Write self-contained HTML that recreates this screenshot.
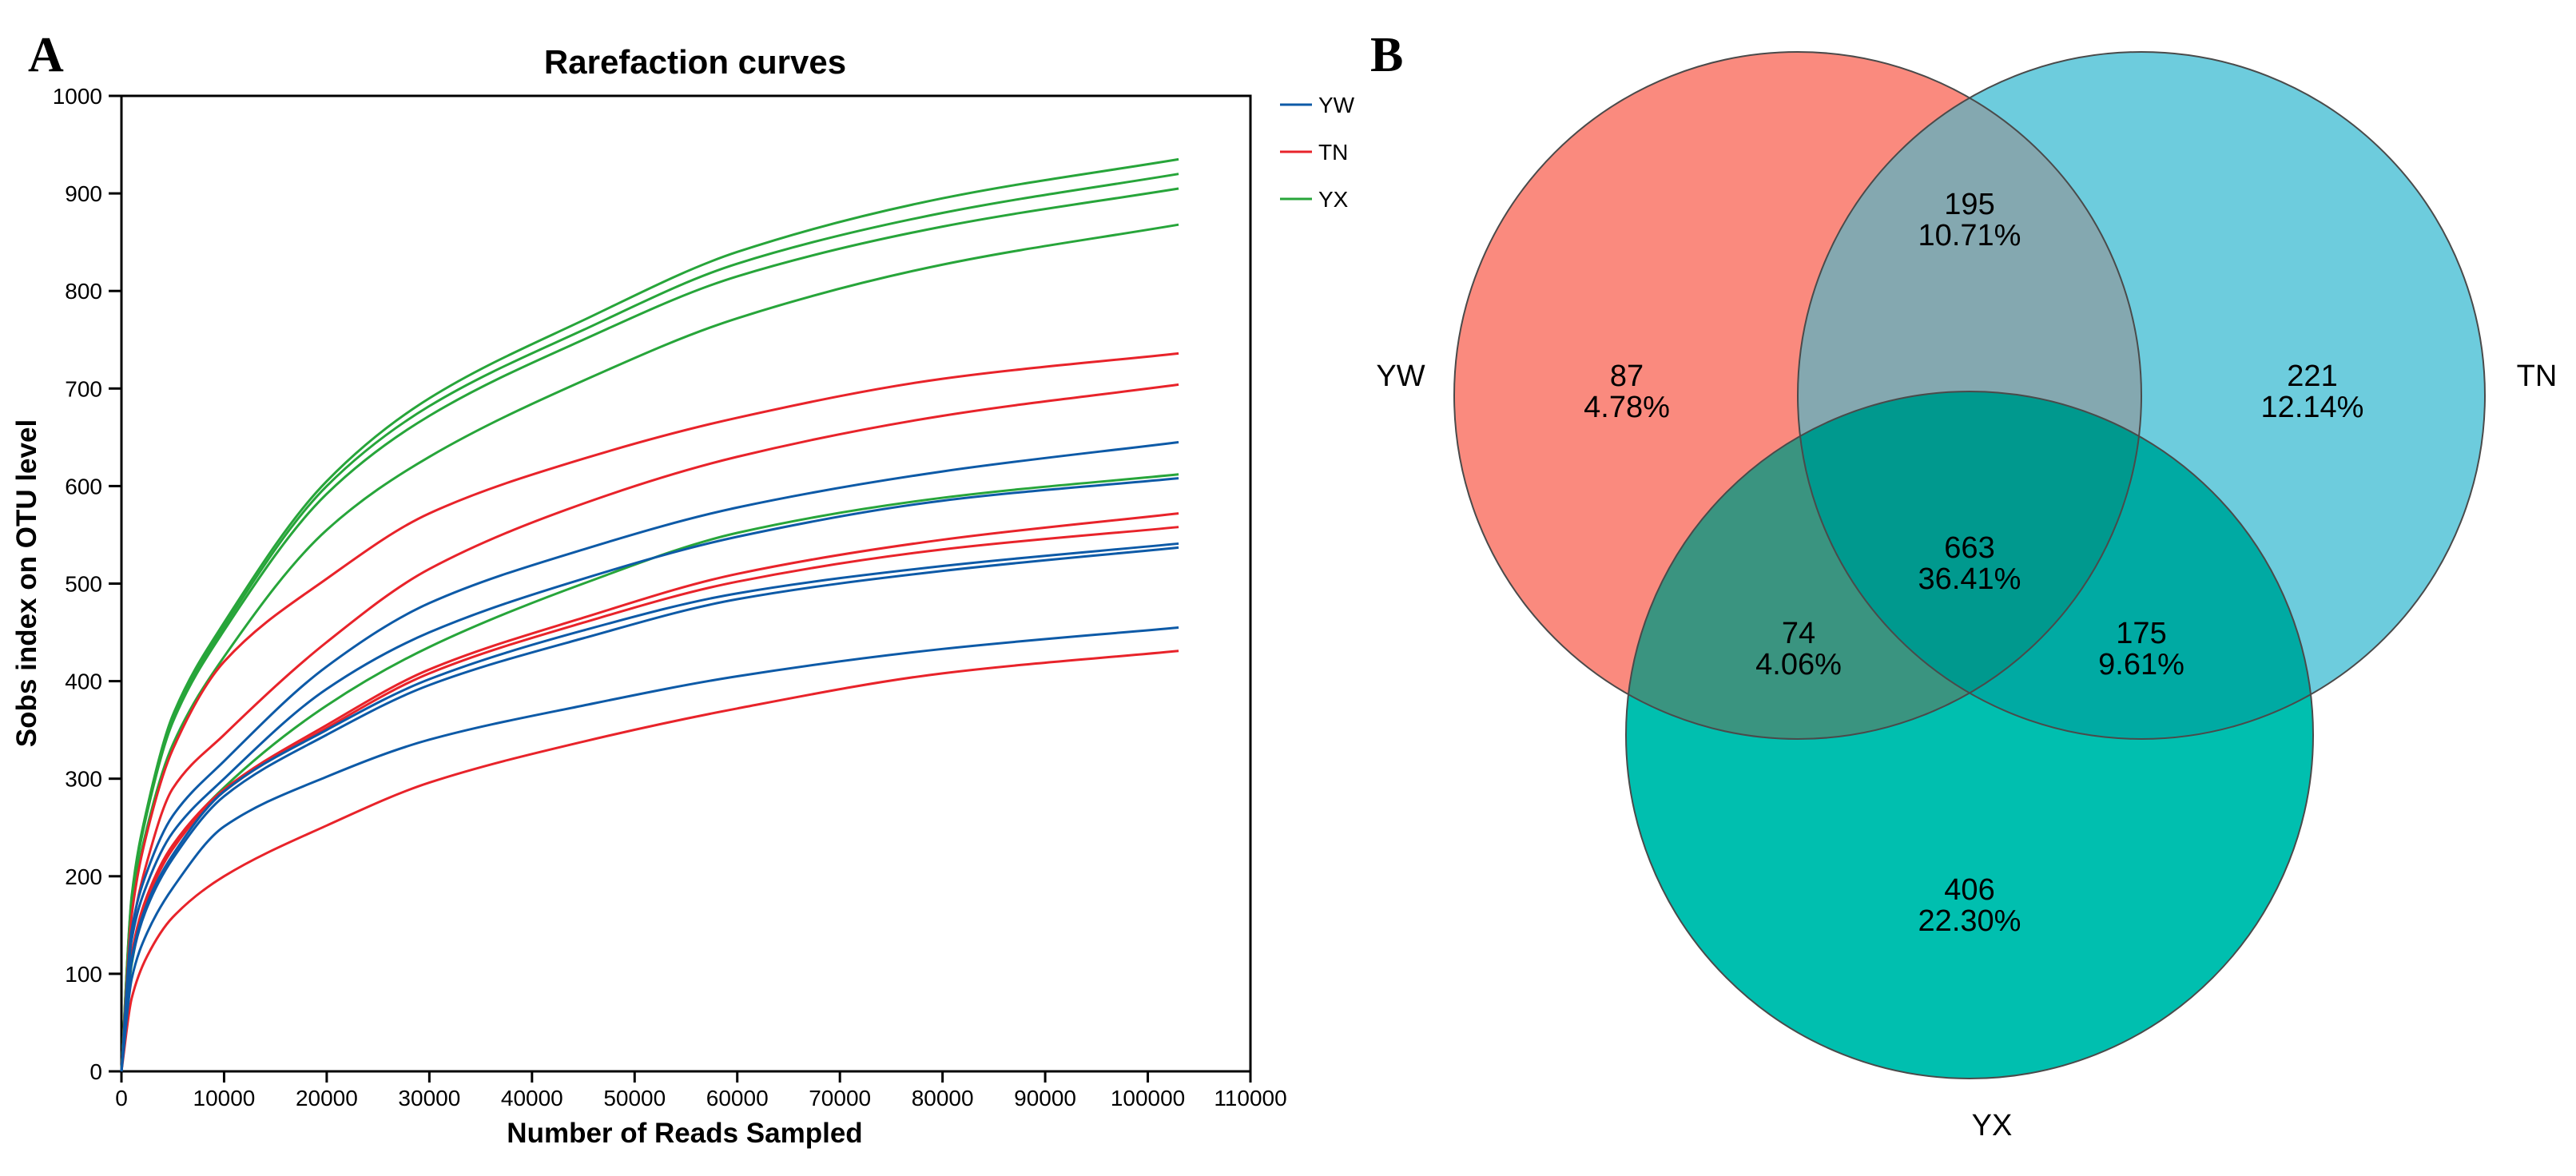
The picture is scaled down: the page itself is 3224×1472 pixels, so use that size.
<!DOCTYPE html>
<html><head><meta charset="utf-8"><style>
html,body{margin:0;padding:0;background:#fff;}
svg{display:block;font-family:"Liberation Sans",sans-serif;}
</style></head><body>
<svg id="fig" width="3224" height="1472" viewBox="0 0 3224 1472" xmlns="http://www.w3.org/2000/svg">
<rect width="3224" height="1472" fill="#fff"/>
<text x="35" y="89" font-family="Liberation Serif,serif" font-weight="bold" font-size="62">A</text>
<text x="1715" y="89" font-family="Liberation Serif,serif" font-weight="bold" font-size="62">B</text>
<text x="870" y="92" text-anchor="middle" font-weight="bold" font-size="42">Rarefaction curves</text>
<g id="chart"></g>
<text x="857" y="1430" text-anchor="middle" font-weight="bold" font-size="35">Number of Reads Sampled</text>
<text x="0" y="0" transform="translate(45,730) rotate(-90)" text-anchor="middle" font-weight="bold" font-size="35">Sobs index on OTU level</text>
<g id="legend"></g>
<g id="venn"></g>
</svg>
<script>
const NS="http://www.w3.org/2000/svg";
const reads=[0,1000,2500,5000,10000,20000,30000,45000,60000,80000,103000];
const xTicks=[0,10000,20000,30000,40000,50000,60000,70000,80000,90000,100000,110000];
const yTicks=[0,100,200,300,400,500,600,700,800,900,1000];
const groupNames=["YW","TN","YX"];
const groupColors=["#0d5aa7","#e8232a","#27a53a"];
const yx1=[0,180,270,365,460,605,690,770,840,895,935];
const yx2=[0,178,268,362,456,600,682,760,828,880,920];
const yx3=[0,175,265,358,452,592,672,750,815,866,905];
const yx4=[0,165,250,335,425,555,630,708,772,827,868];
const yx5=[0,110,175,230,291,375,435,500,552,588,612];
const tn1=[0,160,245,330,420,505,572,628,670,710,736];
const tn2=[0,140,215,290,345,440,515,582,630,672,704];
const tn3=[0,120,180,232,289,355,412,465,510,545,572];
const tn4=[0,118,176,228,287,352,408,460,502,535,558];
const tn5=[0,75,118,158,200,252,296,338,372,408,431];
const yw1=[0,145,205,262,318,415,480,535,578,615,645];
const yw2=[0,135,192,245,300,392,450,505,548,585,608];
const yw3=[0,115,172,222,287,350,402,452,490,518,541];
const yw4=[0,112,168,218,282,345,396,444,484,513,537];
const yw5=[0,95,142,188,251,302,340,375,405,433,455];
const vennSets=["YW","TN","YX"];
const vennCounts=["87","221","406","195","74","175","663"];
const vennPcts=["4.78%","12.14%","22.30%","10.71%","4.06%","9.61%","36.41%"];

const X0=152,X1=1565,Y0=1341,Y1=120;
const xs=v=>X0+(v/110000)*(X1-X0);
const ys=v=>Y0-(v/1000)*(Y0-Y1);
function mk(t,a,p){const e=document.createElementNS(NS,t);for(const k in a)e.setAttribute(k,a[k]);(p||chart).appendChild(e);return e;}
const chart=document.getElementById('chart');
let ax=mk('rect',{x:X0,y:Y1,width:X1-X0,height:Y0-Y1,fill:'none',stroke:'#000','stroke-width':3});


xTicks.forEach(t=>{
 let l=mk('line',{x1:xs(t),x2:xs(t),y1:Y0,y2:Y0+14,stroke:'#000','stroke-width':3});
 
 
 let tx=mk('text',{x:xs(t),y:Y0+43,'text-anchor':'middle','font-size':28});
 
 
 tx.textContent=t;
});
yTicks.forEach(t=>{
 let l=mk('line',{x1:X0-16,x2:X0,y1:ys(t),y2:ys(t),stroke:'#000','stroke-width':3});
 
 
 let tx=mk('text',{x:X0-24,y:ys(t)+10,'text-anchor':'end','font-size':28});
 
 
 tx.textContent=t;
});
function pathFor(vals){
 const p=vals.map((v,i)=>[xs(reads[i]),ys(v)]);
 const n=p.length;const m=[];const d=[];
 for(let i=0;i<n-1;i++)d.push((p[i+1][1]-p[i][1])/(p[i+1][0]-p[i][0]));
 for(let i=0;i<n;i++){
  if(i==0)m.push(d[0]);else if(i==n-1)m.push(d[n-2]);
  else m.push(d[i-1]*d[i]<=0?0:2/(1/d[i-1]+1/d[i]));
 }
 let s=`M${p[0][0]},${p[0][1]}`;
 for(let i=0;i<n-1;i++){
  const h=p[i+1][0]-p[i][0];
  s+=` C${p[i][0]+h/3},${p[i][1]+m[i]*h/3} ${p[i+1][0]-h/3},${p[i+1][1]-m[i+1]*h/3} ${p[i+1][0]},${p[i+1][1]}`;
 }
 return s;
}
const series=[[yx1,2],[yx2,2],[yx3,2],[yx4,2],[yx5,2],[tn1,1],[tn2,1],[tn3,1],[tn4,1],[tn5,1],[yw1,0],[yw2,0],[yw3,0],[yw4,0],[yw5,0]];
series.forEach(([vals,g])=>{
 let c=mk('path',{d:pathFor(vals),fill:'none',stroke:groupColors[g],'stroke-width':3});
 
 
});
const legend=document.getElementById('legend');
groupNames.forEach((nm,i)=>{
 const y=131+i*59;
 let l=mk('line',{x1:1602,x2:1642,y1:y,y2:y,stroke:groupColors[i],'stroke-width':3},legend);
 
 
 let t=mk('text',{x:1650,y:y+10,'font-size':28},legend);
 
 
 t.textContent=nm;
});
const venn=document.getElementById('venn');
const C=[[2250,495],[2680,495],[2465,920]];const R=430;
const defs=mk('defs',{},venn);
C.forEach((c,i)=>{const cp=mk('clipPath',{id:'cp'+i},defs);mk('circle',{cx:c[0],cy:c[1],r:R},cp);});
const cp01=mk('clipPath',{id:'cp01'},defs);mk('circle',{cx:C[1][0],cy:C[1][1],r:R,'clip-path':'url(#cp0)'},cp01);
const baseCols=["#fa8a7e","#6dccdd","#00bfaf"];
C.forEach((c,i)=>{let e=mk('circle',{cx:c[0],cy:c[1],r:R,fill:baseCols[i]},venn);
 
 });
let e1=mk('circle',{cx:C[1][0],cy:C[1][1],r:R,fill:'#84a8b0','clip-path':'url(#cp0)'},venn);


let e2=mk('circle',{cx:C[2][0],cy:C[2][1],r:R,fill:'#3a9480','clip-path':'url(#cp0)'},venn);


let e3=mk('circle',{cx:C[2][0],cy:C[2][1],r:R,fill:'#00aaa3','clip-path':'url(#cp1)'},venn);


let e4=mk('circle',{cx:C[2][0],cy:C[2][1],r:R,fill:'#00998e','clip-path':'url(#cp01)'},venn);


C.forEach((c,i)=>{let o=mk('circle',{cx:c[0],cy:c[1],r:R,fill:'none',stroke:'#4a4a4a','stroke-width':2},venn);
 
 });
const regionPos=[[2036,470],[2894,470],[2465,1113],[2465,255],[2251,792],[2680,792],[2465,685]];
vennCounts.forEach((cnt,i)=>{
 const [x,y]=regionPos[i];
 let t=mk('text',{x:x,y:y+13,'text-anchor':'middle','font-size':38},venn);
 
 
 t.textContent=cnt;
 let p=mk('text',{x:x,y:y+52,'text-anchor':'middle','font-size':38},venn);
 
 
 p.textContent=vennPcts[i];
});
const setLabelPos=[[1753,483],[3175,483],[2493,1421]];
vennSets.forEach((s,i)=>{
 let t=mk('text',{x:setLabelPos[i][0],y:setLabelPos[i][1],'text-anchor':'middle','font-size':38},venn);
 
 
 t.textContent=s;
});
</script>
</body></html>
